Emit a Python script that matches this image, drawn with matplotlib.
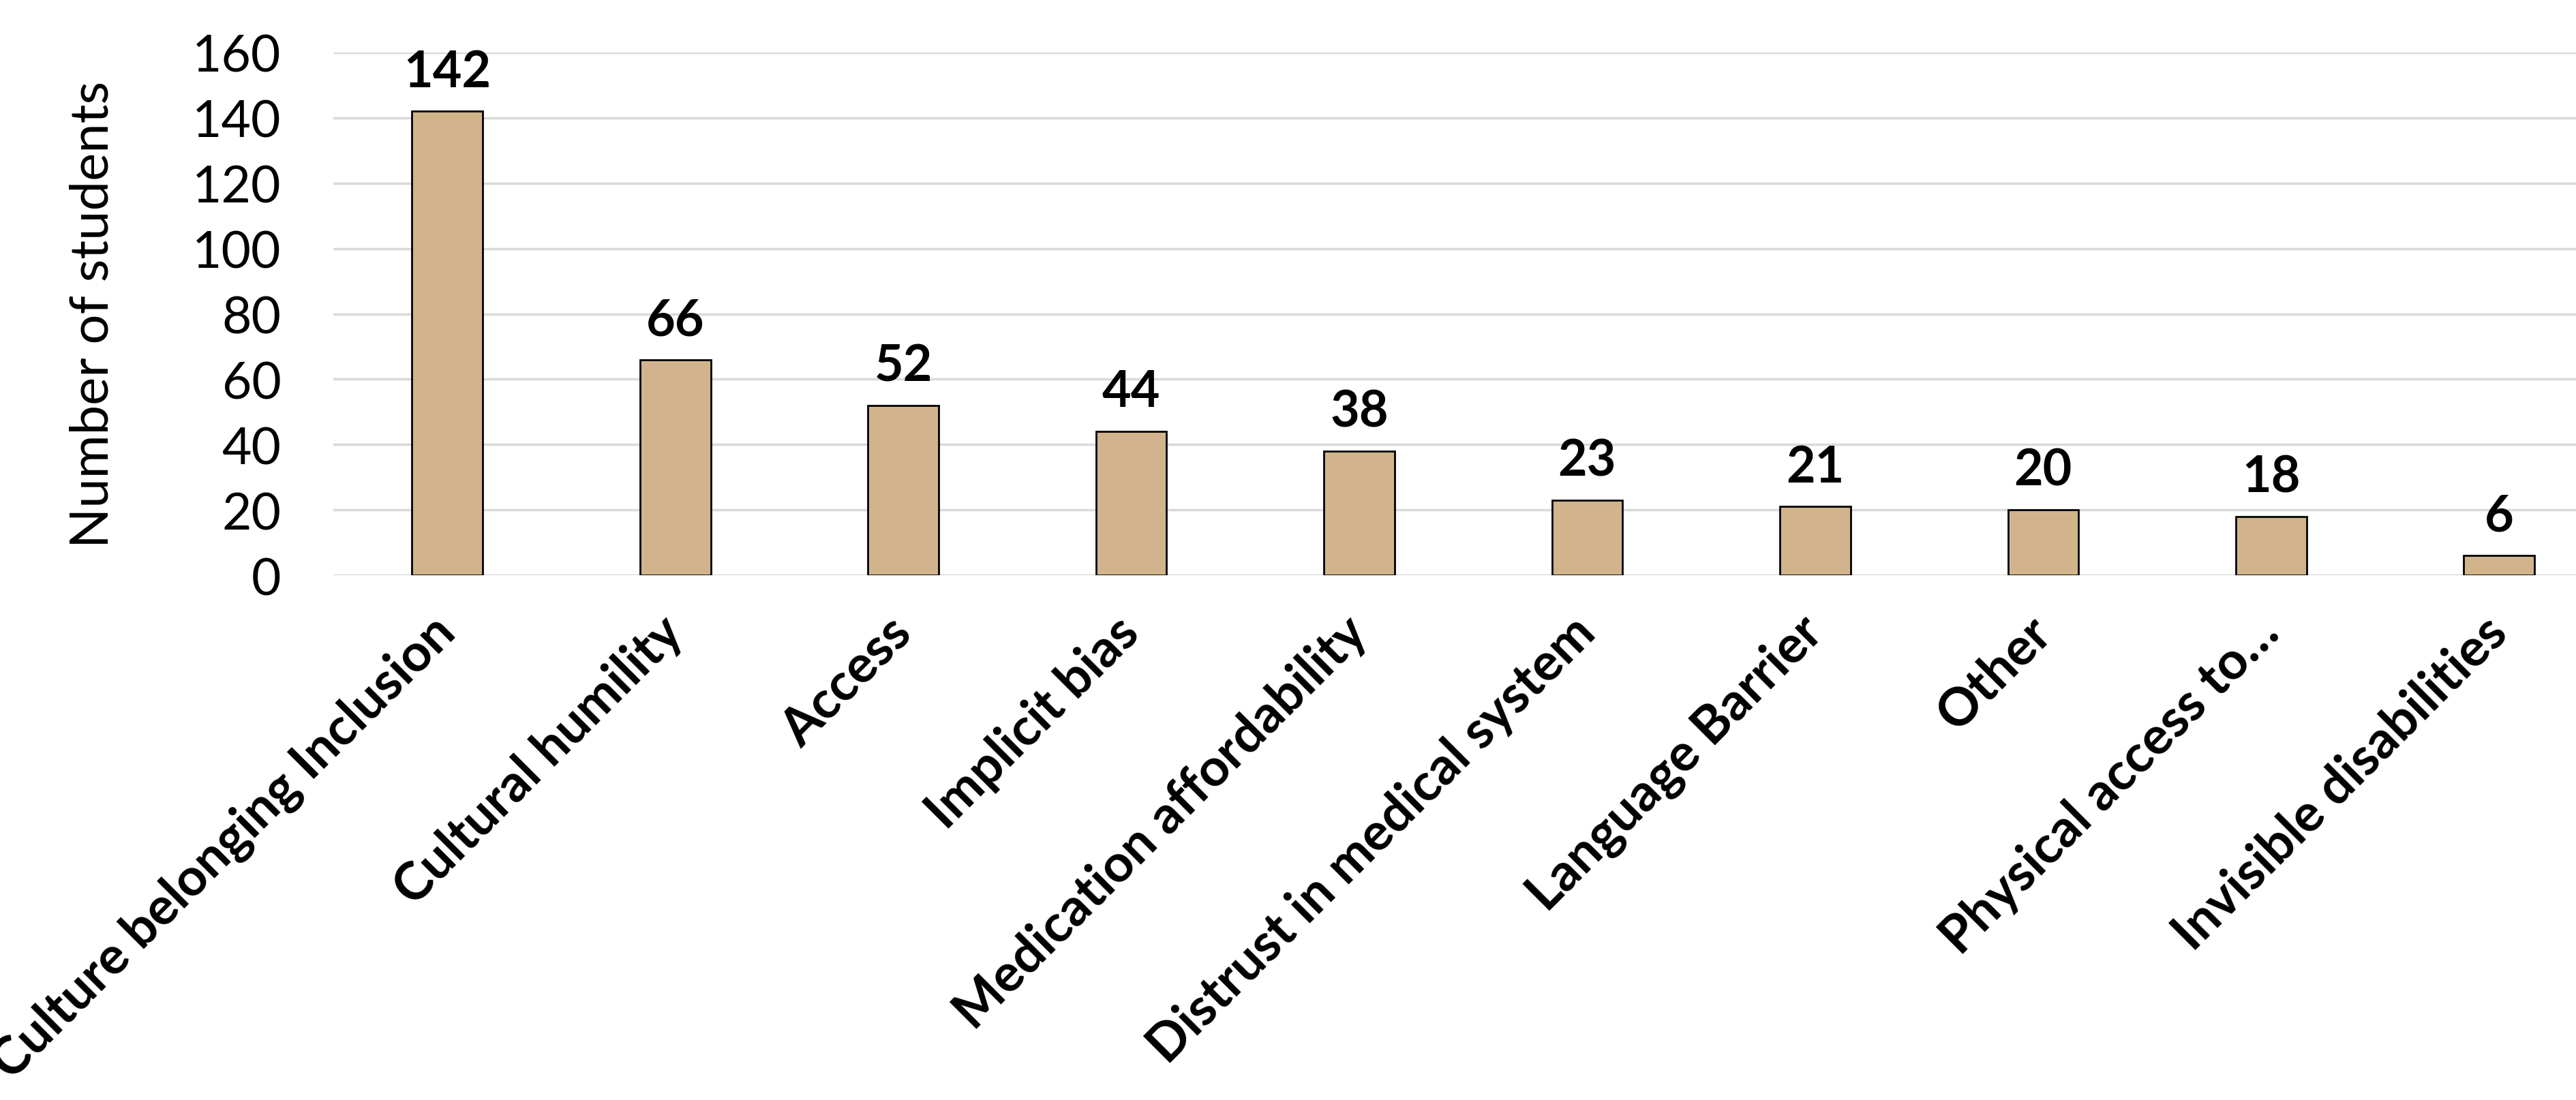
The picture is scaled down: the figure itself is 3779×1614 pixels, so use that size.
import matplotlib
matplotlib.use("Agg")
import matplotlib.pyplot as plt

# survey tallies per topic
categories = ["Culture belonging Inclusion", "Cultural humility", "Access", "Implicit bias",
              "Medication affordability", "Distrust in medical system", "Language Barrier",
              "Other", "Physical access to\u2026", "Invisible disabilities"]
counts = [142, 66, 52, 44, 38, 23, 21, 20, 18, 6]
yticks = [0, 20, 40, 60, 80, 100, 120, 140, 160]

plt.rcParams['font.family'] = ['Lato', 'DejaVu Sans']

fig = plt.figure(figsize=(37.8, 16.15), dpi=100)
ax = fig.add_axes([489 / 3780, 1 - 845 / 1615, 1 - 489 / 3780, (845 - 78) / 1615])

x = list(range(len(categories)))
ax.bar(x, counts, width=0.31, color='#D2B48C', edgecolor='black', linewidth=2, zorder=3)

for xi, v in zip(x, counts):
    ax.annotate(str(v), (xi, v), xytext=(0, 17), textcoords='offset points',
                ha='center', va='bottom', fontsize=53, fontweight='bold')

ax.set_ylim(0, 160)
ax.set_xlim(-0.5, 9.34)
ax.set_yticks(yticks)
ax.set_yticklabels([str(t) for t in yticks], fontsize=54)
ax.yaxis.grid(True, color='#D9D9D9', linewidth=2.5, zorder=0)
ax.set_axisbelow(True)
ax.tick_params(axis='y', length=0, pad=55)
ax.tick_params(axis='x', length=0, pad=52)
ax.set_xticks(x)
ax.set_xticklabels(categories, rotation=45, ha='right', va='center', rotation_mode='anchor',
                   fontsize=55, fontweight='bold')
for s in ax.spines.values():
    s.set_visible(False)
ax.set_ylabel("Number of students", fontsize=56, labelpad=79)

fig.savefig("out.png", dpi=100)
